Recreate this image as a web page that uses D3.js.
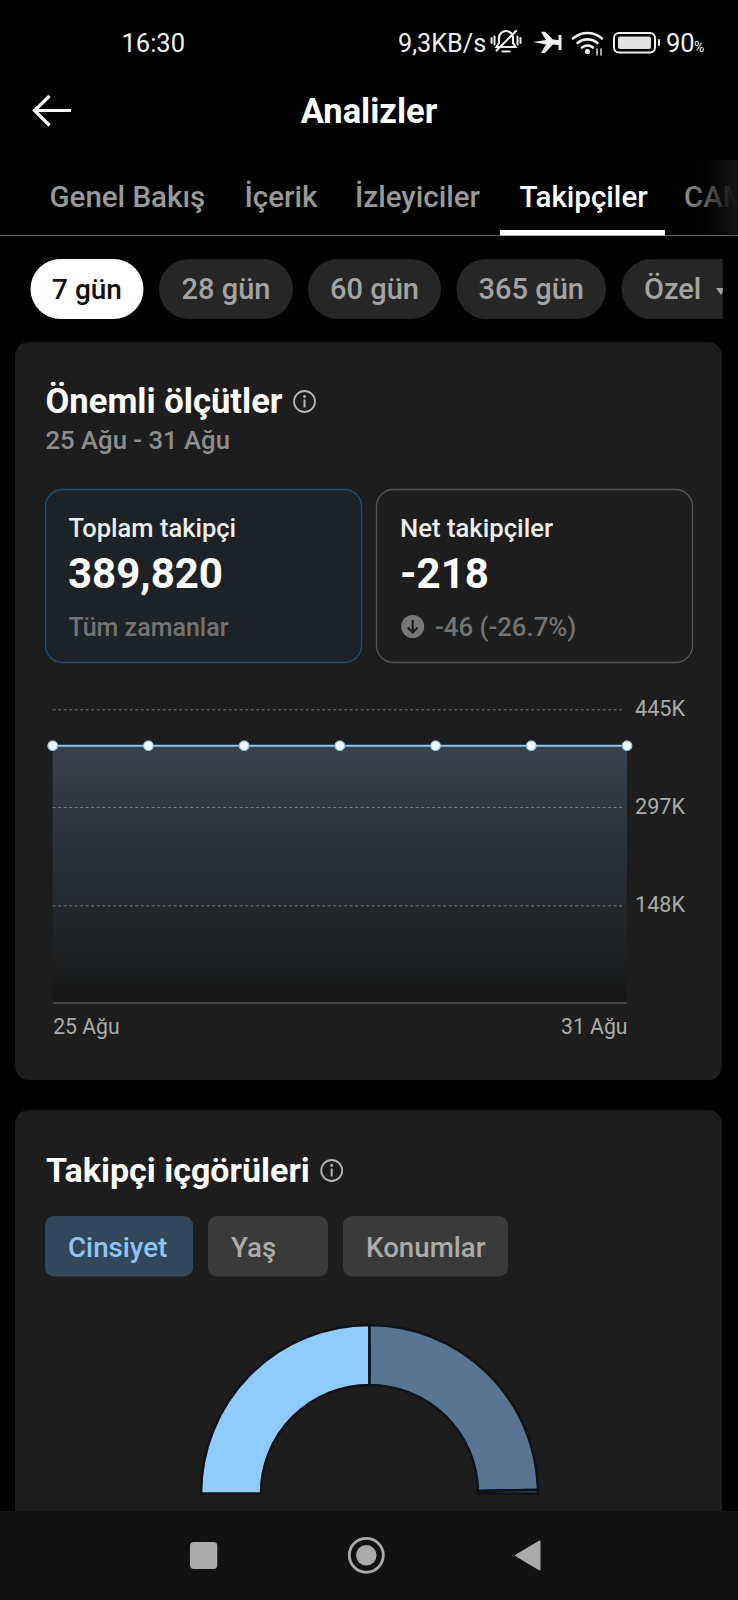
<!DOCTYPE html>
<html lang="tr">
<head>
<meta charset="utf-8">
<style>
html,body{margin:0;padding:0;background:#000;}
svg{display:block;}
text{font-family:Roboto,"Noto Sans",sans-serif;}
</style>
<script src="https://cdn.jsdelivr.net/npm/d3@7"></script>
</head>
<body>
<svg id="c" width="738" height="1600"></svg>
<script>
// ---- data ----
const dates = ["25 Ağu","26 Ağu","27 Ağu","28 Ağu","29 Ağu","30 Ağu","31 Ağu"];
const followers = [389820,389820,389820,389820,389820,389820,389820];
const yTicks = [148000,297000,445000];
const yTickLabels = ["148K","297K","445K"];
const xTickLabels = ["25 Ağu","31 Ağu"];
const genderLabels = ["Kadın","Erkek","Diğer"];
const genderValues = [50,49.3,0.7];
const genderColors = ["#90cbff","#587593","#3a5068"];
const tabs = ["Genel Bakış","İçerik","İzleyiciler","Takipçiler","CAM"];
const tabX = [49.5,244.5,355,519.5,684];
const pills = ["7 gün","28 gün","60 gün","365 gün","Özel"];
const pillX = [[30.5,143.5],[159,293],[308,441],[456.5,606],[621.5,760]];
const subTabs = ["Cinsiyet","Yaş","Konumlar"];
const subTabX = [[45,193],[208,328],[343,508]];
const subTabTextX = [68,231,366];

const svg = d3.select("#c");
const defs = svg.append("defs");
const txt = (p,x,y,s,size,fill,weight=400,anchor="start")=>p.append("text")
  .attr("x",x).attr("y",y).attr("font-size",size).attr("fill",fill)
  .attr("font-weight",weight).attr("text-anchor",anchor).text(s);
const rect = (p,x,y,w,h,r,fill)=>p.append("rect").attr("x",x).attr("y",y).attr("width",w).attr("height",h).attr("rx",r).attr("fill",fill);

rect(svg,0,0,738,1600,0,"#000");

// status bar
txt(svg,121.5,52,"16:30",25.5,"#f2f2f2");
txt(svg,398,52,"9,3KB/s",25.2,"#efefef");
const st = svg.append("g").attr("stroke","#efefef").attr("fill","none").attr("stroke-linecap","round");
// muted bell
st.append("path").attr("stroke-width",2.2).attr("d","M496.5 47 h19 l-2.5-4 v-5 a7 7 0 0 0-14 0 v5z M502.5 51.5 h7");
st.append("path").attr("stroke-width",2.2).attr("d","M496.5 50.5 L516 31");
st.append("path").attr("stroke-width",2).attr("d","M491.5 38 v5 M494.5 36.5 v8 M517.5 36.5 v8 M520.5 38 v5");
// plane
svg.append("path").attr("fill","#efefef").attr("d","M533 42 L546 40 L541 31.7 h4 L553 39.5 L558.5 40 v-5 h3 v15 h-3 v-5 L553 44.5 L545 53 h-4 L546 44.5 Z");
// wifi
st.append("path").attr("stroke-width",2.6).attr("d","M573 38.5 a22 22 0 0 1 29 0 M577.5 43 a15.5 15.5 0 0 1 20 0 M582 47.5 a8.5 8.5 0 0 1 11 0");
svg.append("circle").attr("cx",587.5).attr("cy",51.5).attr("r",2.6).attr("fill","#efefef");
st.append("path").attr("stroke-width",1.4).attr("d","M597 49 v6 M601 49 v6");
// battery
svg.append("rect").attr("x",614).attr("y",33).attr("width",41).attr("height",19.5).attr("rx",5).attr("fill","none").attr("stroke","#efefef").attr("stroke-width",2);
rect(svg,618,36.5,33,12.5,2,"#e2e2e2");
rect(svg,658,39,2,7,1,"#efefef");
txt(svg,666,52,"90",25.5,"#efefef");
txt(svg,694,52,"%",14,"#efefef");

// header
svg.append("path").attr("fill","none").attr("stroke","#fff").attr("stroke-width",3.2)
  .attr("d","M71 110.5 H35 M49.5 96 L34.5 110.5 L49.5 125.5");
txt(svg,369,122.5,"Analizler",34.5,"#fff",700,"middle");

// tabs
tabs.forEach((t,i)=>txt(svg,tabX[i],207,t,29.5,i===3?"#fff":"#989898",500));
const fade = defs.append("linearGradient").attr("id","fade");
fade.append("stop").attr("offset",0).attr("stop-color","#000").attr("stop-opacity",0);
fade.append("stop").attr("offset",0.5).attr("stop-color","#0a0a0a").attr("stop-opacity",0.5);
fade.append("stop").attr("offset",0.85).attr("stop-color","#111").attr("stop-opacity",0.92);
fade.append("stop").attr("offset",1).attr("stop-color","#141414");
rect(svg,682,160,56,75,0,"url(#fade)");
rect(svg,0,235,738,1,0,"#5a5a5a");
rect(svg,500,230,165,5.5,0,"#fff");

// pills
const pillClip = defs.append("clipPath").attr("id","pc");
pillClip.append("rect").attr("x",0).attr("y",250).attr("width",722.7).attr("height",80);
const pg = svg.append("g").attr("clip-path","url(#pc)");
pills.forEach((t,i)=>{
  const [a,b]=pillX[i];
  rect(pg,a,259,b-a,60,30,i===0?"#fff":"#262626");
  const x = i===4 ? 644 : (a+b)/2;
  txt(pg,x,299,t,i===0?28:29,i===0?"#111":"#a3a3a3",500,i===4?"start":"middle");
});
pg.append("path").attr("fill","#a3a3a3").attr("d","M716 288 h10 l-5 7z");

// cards
rect(svg,15,342,707,738,14,"#1d1d1d");
rect(svg,15,1110,707,420,14,"#1d1d1d");

const info=(cx,cy)=>{
  const g=svg.append("g");
  g.append("circle").attr("cx",cx).attr("cy",cy).attr("r",10.5).attr("fill","none").attr("stroke","#b5b5b5").attr("stroke-width",1.8);
  g.append("circle").attr("cx",cx).attr("cy",cy-5).attr("r",1.4).attr("fill","#b5b5b5");
  g.append("rect").attr("x",cx-1).attr("y",cy-2).attr("width",2).attr("height",8).attr("fill","#b5b5b5");
};
txt(svg,45.5,412.5,"Önemli ölçütler",34.6,"#fff",700);
info(304.5,401.5);
txt(svg,45.5,449,"25 Ağu - 31 Ağu",25.7,"#8d8d8d",500);

// metric boxes
svg.append("rect").attr("x",45.5).attr("y",489.5).attr("width",316).attr("height",173).attr("rx",17)
  .attr("fill","#1d2226").attr("stroke","#1f4e7a").attr("stroke-width",1.3);
svg.append("rect").attr("x",376.5).attr("y",489.5).attr("width",316).attr("height",173).attr("rx",17)
  .attr("fill","#1d1d1d").attr("stroke","#565656").attr("stroke-width",1.3);
txt(svg,68.5,536.5,"Toplam takipçi",25.5,"#eeeeee",500);
txt(svg,68,588,"389,820",42,"#fff",700);
txt(svg,68.5,636,"Tüm zamanlar",25,"#737373",500);
txt(svg,400,536.5,"Net takipçiler",25.7,"#eeeeee",500);
txt(svg,400,588,"-218",42,"#fff",700);
svg.append("circle").attr("cx",412.7).attr("cy",626.5).attr("r",11.5).attr("fill","#777");
svg.append("path").attr("fill","none").attr("stroke","#1d1d1d").attr("stroke-width",2.2).attr("d","M412.7 620 v12 M407.7 627.5 l5 5 l5 -5");
txt(svg,435,636,"-46 (-26.7%)",25.8,"#737373",500);

// chart
const chartLeft=52.7, chartRight=627, chartBottom=1003, chartTop=709.3;
const x=d3.scalePoint().domain(dates).range([chartLeft,chartRight]);
const y=d3.scaleLinear().domain([0,445000]).range([chartBottom,chartTop]);

const grad=defs.append("linearGradient").attr("id","area").attr("x1",0).attr("x2",0).attr("y1",0).attr("y2",1);
grad.append("stop").attr("offset",0).attr("stop-color","#37424d");
grad.append("stop").attr("offset",0.5).attr("stop-color","#272d33");
grad.append("stop").attr("offset",1).attr("stop-color","#171717");

svg.append("path").datum(followers).attr("fill","url(#area)")
  .attr("d",d3.area().x((d,i)=>x(dates[i])).y0(chartBottom).y1(d=>y(d)));

const yAxis=d3.axisRight(y).tickValues(yTicks).tickSize(chartRight-chartLeft-3.5)
  .tickFormat((d,i)=>yTickLabels[i]);
const ya=svg.append("g").attr("transform",`translate(${chartLeft},0)`).call(yAxis);
ya.select(".domain").remove();
ya.selectAll("line").attr("stroke","#9a9a9a").attr("stroke-opacity",.7).attr("stroke-width",1).attr("stroke-dasharray","3 2.5");
ya.selectAll("text").attr("x",685-chartLeft).attr("y",-1.5).attr("text-anchor","end").attr("dy","0.36em")
  .attr("font-size",21.6).attr("fill","#ababab").attr("font-family","Roboto");

svg.append("line").attr("x1",chartLeft).attr("x2",chartRight).attr("y1",chartBottom).attr("y2",chartBottom)
  .attr("stroke","#4a4a4a").attr("stroke-width",2);

const xAxis=d3.axisBottom(x).tickValues(xTickLabels).tickSize(0).tickPadding(0);
const xa=svg.append("g").attr("transform",`translate(0,${chartBottom})`).call(xAxis);
xa.select(".domain").remove();
xa.selectAll("text").attr("y",31).attr("dy",0).attr("font-size",21.2).attr("fill","#ababab")
  .attr("font-family","Roboto").attr("text-anchor",(d,i)=>i===0?"start":"end");

svg.append("path").datum(followers).attr("fill","none").attr("stroke","#8fc4f0").attr("stroke-width",2)
  .attr("d",d3.line().x((d,i)=>x(dates[i])).y(d=>y(d)));
svg.selectAll("circle.pt").data(followers).join("circle").attr("class","pt")
  .attr("cx",(d,i)=>x(dates[i])).attr("cy",d=>y(d)).attr("r",4.8)
  .attr("fill","#f2f9ff").attr("stroke","#8fc4f0").attr("stroke-width",1.2);

// second card
txt(svg,46,1181.5,"Takipçi içgörüleri",34,"#fff",700);
info(331.7,1170.5);
subTabs.forEach((t,i)=>{
  const [a,b]=subTabX[i];
  rect(svg,a,1216,b-a,60.5,9,i===0?"#33475a":"#3a3a3a");
  txt(svg,subTabTextX[i],1256.5,t,27.7,i===0?"#8ec5f7":"#ababab",500);
});

// semi-donut
const pie=d3.pie().sort(null).startAngle(-Math.PI/2).endAngle(Math.PI/2)(genderValues);
const arc=d3.arc().innerRadius(108.5).outerRadius(168.5);
svg.append("g").attr("transform","translate(369.5,1493.5)")
  .selectAll("path").data(pie).join("path")
  .attr("d",arc).attr("fill",(d,i)=>genderColors[i])
  .attr("stroke","#101418").attr("stroke-width",2.6).attr("stroke-linejoin","miter")
  .append("title").text((d,i)=>genderLabels[i]);

// nav bar
rect(svg,0,1511,738,89,0,"#121212");
rect(svg,190,1542,27.3,27,4,"#aaaaaa");
svg.append("circle").attr("cx",366.3).attr("cy",1555.3).attr("r",17).attr("fill","none").attr("stroke","#aaaaaa").attr("stroke-width",2.8);
svg.append("circle").attr("cx",366.3).attr("cy",1555.3).attr("r",10.3).attr("fill","#aaaaaa");
svg.append("path").attr("fill","#aaaaaa").attr("stroke","#aaaaaa").attr("stroke-width",2).attr("stroke-linejoin","round")
  .attr("d","M516 1555.5 L539.5 1541.5 V1569.5 Z");
</script>
</body>
</html>
